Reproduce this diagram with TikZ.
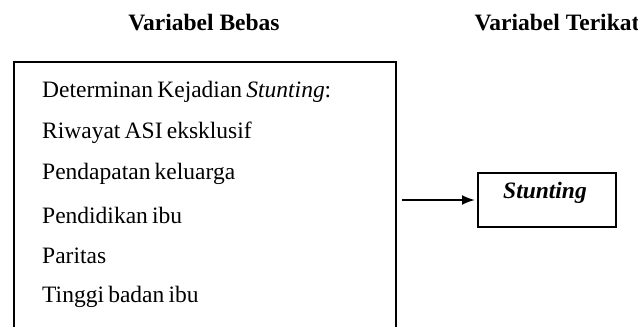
\documentclass[tikz,border=0pt]{standalone}
\usepackage{fontspec}
\setmainfont{Liberation Serif}
\usetikzlibrary{arrows.meta}
\newcommand{\itemfont}{\fontsize{23.5}{26}\selectfont\spaceskip=0.18em\relax}
\begin{document}
\begin{tikzpicture}[x=1pt,y=-1pt,
  title/.style={font=\fontsize{23.5}{26}\selectfont\bfseries, inner sep=0pt},
  item/.style={font=\itemfont, anchor=west, inner sep=0pt},
  frame/.style={draw, line width=2pt, inner sep=0pt},
  conn/.style={line width=2pt, -{Latex[length=13pt,width=10pt]}}]
\useasboundingbox (0,0) rectangle (638,327);
\clip (0,0) rectangle (638,327);
\node[title] (tb) at (204,23) {Variabel Bebas};
\node[title] (tt) at (557,23) {Variabel Terikat};
\node[frame, minimum width=382pt, minimum height=300pt, anchor=north west] (box) at (13,61) {};
\node[item] (l1) at (42,92) {Determinan Kejadian \textit{Stunting}:};
\node[item] (l2) at (42,133) {Riwayat ASI eksklusif};
\node[item] (l3) at (42,174) {Pendapatan keluarga};
\node[item] (l4) at (42,215) {Pendidikan ibu};
\node[item] (l5) at (42,256) {Paritas};
\node[item] (l6) at (42,297) {Tinggi badan ibu};
\node[frame, minimum width=138pt, minimum height=54pt, anchor=north west] (st) at (477,172) {};
\node[font=\fontsize{23.5}{26}\selectfont\bfseries\itshape, inner sep=0pt] (stt) at (545,193) {Stunting};
\coordinate (a0) at (402,200);
\draw[conn] (a0) -- ([xshift=-2pt]a0 -| st.west);
\end{tikzpicture}
\end{document}
